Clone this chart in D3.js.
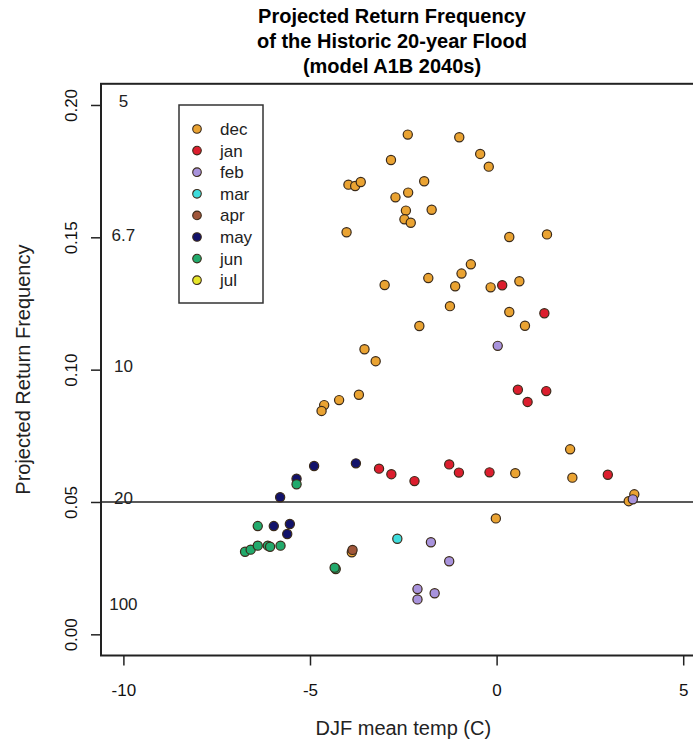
<!DOCTYPE html>
<html>
<head>
<meta charset="utf-8">
<script src="https://cdn.jsdelivr.net/npm/d3@7"></script>
<style>
  body { margin: 0; background: #fff; }
  svg { font-family: "Liberation Sans", Arial, sans-serif; }
</style>
</head>
<body>
<div id="chart"></div>
<script>
// month names, drawing order follows the legend
var months = ["dec", "jan", "feb", "mar", "apr", "may", "jun", "jul"];

// [DJF mean temp, projected return frequency]
var decPts = [[-2.38,0.1888],[-1.00,0.1878],[-2.83,0.1792],[-0.44,0.1815],[-0.21,0.1767],
  [-3.97,0.1699],[-3.79,0.1694],[-3.64,0.1709],[-1.94,0.1712],[-2.71,0.1651],[-2.37,0.1669],
  [-2.43,0.1601],[-2.47,0.1568],[-2.30,0.1555],[-1.74,0.1604],[-4.02,0.1519],[0.34,0.1501],
  [1.35,0.1511],[-0.69,0.1398],[-0.94,0.1363],[-3.00,0.1320],[-1.83,0.1346],[-1.11,0.1315],
  [-0.16,0.1311],[0.61,0.1334],[-1.25,0.1240],[0.34,0.1218],[-2.07,0.1165],[0.76,0.1166],
  [-3.54,0.1077],[-3.24,0.1032],[-3.69,0.0905],[-4.22,0.0885],[-4.62,0.0866],[-4.69,0.0844],
  [1.97,0.0699],[0.50,0.0609],[2.03,0.0592],[3.69,0.0529],[3.54,0.0503],[-0.02,0.0438],
  [-3.88,0.0310]];
var janPts = [[0.15,0.1319],[1.28,0.1213],[0.57,0.0924],[1.33,0.0919],[0.83,0.0878],
  [-3.15,0.0626],[-2.82,0.0605],[-2.20,0.0579],[-1.27,0.0642],[-1.01,0.0611],[-0.19,0.0612],
  [2.98,0.0603]];
var febPts = [[0.03,0.1090],[3.65,0.0510],[-1.76,0.0348],[-1.27,0.0276],[-2.12,0.0171],
  [-1.66,0.0155],[-2.12,0.0132]];
var marPts = [[-2.66,0.0361]];
var aprPts = [[-3.86,0.0319]];
var mayPts = [[-4.89,0.0636],[-3.77,0.0646],[-5.36,0.0588],[-5.80,0.0518],[-5.97,0.0409],
  [-5.54,0.0417],[-5.61,0.0379]];
var junPts = [[-5.36,0.0567],[-6.40,0.0409],[-6.74,0.0312],[-6.59,0.0320],[-6.40,0.0335],
  [-6.13,0.0335],[-6.07,0.0331],[-5.79,0.0335],[-4.31,0.0247],[-4.34,0.0252]];
var julPts = [];

var xTicks = [-10, -5, 0, 5];
var yTicks = [0, 0.05, 0.10, 0.15, 0.20];
var returnPeriods = [5, 6.7, 10, 20, 100];
var historicFreq = 0.05;

var colors = {dec: "#eaa332", jan: "#dc1e2e", feb: "#a893dc", mar: "#3fdcdc",
  apr: "#a0563a", may: "#12126a", jun: "#22aa6c", jul: "#e6e62a"};

var width = 693;
var height = 746;

var svg = d3.select("#chart")
  .append("svg")
  .attr("width", width)
  .attr("height", height);

var x = d3.scaleLinear().domain([-10.6, 5.6]).range([101, 705.6]);
var y = d3.scaleLinear().domain([-0.008, 0.208]).range([655.5, 83.8]);

// title
var titleLines = ["Projected Return Frequency", "of the Historic 20-year Flood", "(model A1B 2040s)"];
svg.selectAll(".title")
  .data(titleLines)
  .enter().append("text")
  .attr("class", "title")
  .attr("x", 392)
  .attr("y", function(d, i) { return 23 + i * 25; })
  .attr("text-anchor", "middle")
  .attr("font-weight", "bold")
  .attr("font-size", "20px")
  .text(function(d) { return d; });

// axes
var yAxis = svg.append("g")
  .attr("transform", "translate(101,0)")
  .call(d3.axisLeft(y).tickValues(yTicks).tickFormat(d3.format(".2f")).tickSize(10));
yAxis.select(".domain").remove();
yAxis.selectAll("line").attr("stroke", "#222").attr("stroke-width", 1.5);
yAxis.selectAll("text")
  .attr("transform", "rotate(-90)")
  .attr("x", 0)
  .attr("y", -24)
  .attr("dy", 0)
  .attr("text-anchor", "middle")
  .attr("font-size", "17px")
  .attr("font-family", "Liberation Sans, Arial, sans-serif")
  .attr("fill", "#111");

var xAxis = svg.append("g")
  .attr("transform", "translate(0,655.5)")
  .call(d3.axisBottom(x).tickValues(xTicks).tickFormat(function(d) { return String(d); }).tickSize(10));
xAxis.select(".domain").remove();
xAxis.selectAll("line").attr("stroke", "#222").attr("stroke-width", 1.5);
xAxis.selectAll("text")
  .attr("y", 28)
  .attr("font-size", "17px")
  .attr("font-family", "Liberation Sans, Arial, sans-serif")
  .attr("fill", "#111");

// plot box
svg.append("rect")
  .attr("x", x(-10.6))
  .attr("y", y(0.208))
  .attr("width", x(5.6) - x(-10.6))
  .attr("height", y(-0.008) - y(0.208))
  .attr("fill", "none")
  .attr("stroke", "#222")
  .attr("stroke-width", 2);

// axis titles
svg.append("text")
  .attr("transform", "translate(30," + ((y(0.208) + y(-0.008)) / 2) + ") rotate(-90)")
  .attr("text-anchor", "middle")
  .attr("font-size", "20px")
  .attr("fill", "#222")
  .text("Projected Return Frequency");

svg.append("text")
  .attr("x", (x(-10.6) + x(5.6)) / 2)
  .attr("y", 735)
  .attr("text-anchor", "middle")
  .attr("font-size", "20px")
  .attr("fill", "#222")
  .text("DJF mean temp (C)");

// historic 20-year flood line
svg.append("line")
  .attr("x1", x(-10.6))
  .attr("x2", x(5.6))
  .attr("y1", y(historicFreq))
  .attr("y2", y(historicFreq))
  .attr("stroke", "#222")
  .attr("stroke-width", 1.5);

// return period labels
svg.selectAll(".rp")
  .data(returnPeriods)
  .enter().append("text")
  .attr("class", "rp")
  .attr("x", x(-10))
  .attr("y", function(d) { return y(1 / d) + 2; })
  .attr("text-anchor", "middle")
  .attr("font-size", "17px")
  .attr("fill", "#222")
  .text(function(d) { return d; });

// points
var allPts = [decPts, janPts, febPts, marPts, aprPts, mayPts, junPts, julPts];
var points = [];
allPts.forEach(function(arr, i) {
  arr.forEach(function(p) { points.push({m: months[i], t: p[0], f: p[1]}); });
});

svg.append("g").selectAll("circle")
  .data(points)
  .enter().append("circle")
  .attr("cx", function(d) { return x(d.t); })
  .attr("cy", function(d) { return y(d.f); })
  .attr("r", 4.6)
  .attr("fill", function(d) { return colors[d.m]; })
  .attr("stroke", "#3a2a1a")
  .attr("stroke-width", 1.2);

// legend
var legend = svg.append("g").attr("transform", "translate(179,105)");
legend.append("rect")
  .attr("width", 84)
  .attr("height", 198)
  .attr("fill", "#fff")
  .attr("stroke", "#333")
  .attr("stroke-width", 1.5);

var items = legend.selectAll(".item")
  .data(months)
  .enter().append("g")
  .attr("class", "item")
  .attr("transform", function(d, i) { return "translate(0," + (24 + i * 21.6) + ")"; });
items.append("circle")
  .attr("cx", 18)
  .attr("r", 4.3)
  .attr("fill", function(d) { return colors[d]; })
  .attr("stroke", "#3a2a1a")
  .attr("stroke-width", 1.1);
items.append("text")
  .attr("x", 41)
  .attr("y", 6)
  .attr("font-size", "17px")
  .attr("fill", "#222")
  .text(function(d) { return d; });
</script>
</body>
</html>
